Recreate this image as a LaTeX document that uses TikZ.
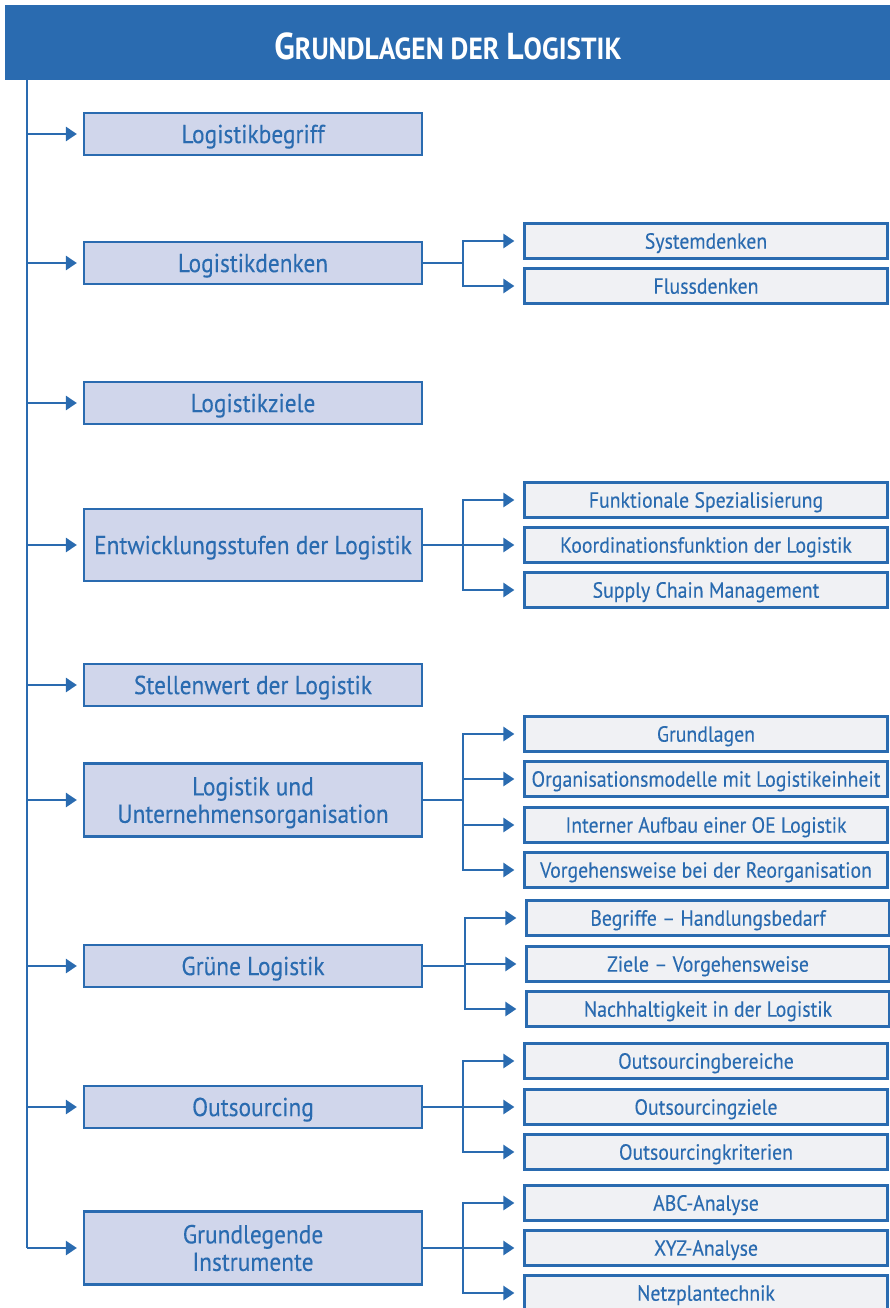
\documentclass[tikz,border=0pt]{standalone}
\usepackage{fontspec}
\setmainfont{PT Sans}[FakeStretch=0.9,FakeBold=0.2]
\newfontfamily\headfont{PT Sans}[FakeStretch=0.9]
\usetikzlibrary{arrows.meta}
\definecolor{mainblue}{HTML}{2A6BB0}
\definecolor{mainfill}{HTML}{D0D6EB}
\definecolor{subfill}{HTML}{F0F1F4}
\tikzset{
  conn/.style={draw=mainblue, line width=2.4pt, line join=miter},
  arr/.style={conn, -{Triangle[length=11pt,width=14pt]}},
  mainbox/.style={draw=mainblue, fill=mainfill, line width=2.2pt,
    minimum width=338pt, minimum height=42pt, inner sep=0pt, align=center,
    text=mainblue, font=\fontsize{26}{27.5}\selectfont,
    text height=18.2pt, text depth=0pt},
  twoline/.style={minimum height=73pt, text height=45.7pt},
  subbox/.style={draw=mainblue, fill=subfill, line width=2.2pt,
    minimum width=363pt, minimum height=35pt, inner sep=0pt, text=mainblue,
    font=\fontsize{22}{24}\selectfont, text height=15.4pt, text depth=0pt},
}
\begin{document}
\begin{tikzpicture}[x=1pt,y=-1pt]
\useasboundingbox (0,0) rectangle (890,1308);

% title bar
\fill[mainblue] (5,5) rectangle (890,80);
\node[text=white, font=\headfont\bfseries] (title) at (448,46)
  {\fontsize{37.5}{40}\selectfont G\fontsize{30.5}{40}\selectfont RUNDLAGEN DER
   \fontsize{37.5}{40}\selectfont L\fontsize{30.5}{40}\selectfont OGISTIK};

% main topics
\node[mainbox] (m1) at (253,134) {Logistikbegriff};
\node[mainbox] (m2) at (253,263) {Logistikdenken};
\node[mainbox] (m3) at (253,403) {Logistikziele};
\node[mainbox, minimum height=72pt] (m4) at (253,545) {Entwicklungsstufen der Logistik};
\node[mainbox] (m5) at (253,685) {Stellenwert der Logistik};
\node[mainbox, twoline] (m6) at (253,800) {Logistik und\\Unternehmensorganisation};
\node[mainbox] (m7) at (253,966) {Grüne Logistik};
\node[mainbox] (m8) at (253,1107) {Outsourcing};
\node[mainbox, twoline] (m9) at (253,1248) {Grundlegende\\Instrumente};

% sub topics
\node[subbox] (s21) at (706,241) {Systemdenken};
\node[subbox] (s22) at (706,286) {Flussdenken};

\node[subbox] (s41) at (706,500) {Funktionale Spezialisierung};
\node[subbox] (s42) at (706,545) {Koordinationsfunktion der Logistik};
\node[subbox] (s43) at (706,590) {Supply Chain Management};

\node[subbox] (s61) at (706,734) {Grundlagen};
\node[subbox] (s62) at (706,779) {Organisationsmodelle mit Logistikeinheit};
\node[subbox] (s63) at (706,825) {Interner Aufbau einer OE Logistik};
\node[subbox] (s64) at (706,870) {Vorgehensweise bei der Reorganisation};

\node[subbox] (s71) at (708,918) {Begriffe – Handlungsbedarf};
\node[subbox] (s72) at (708,964) {Ziele – Vorgehensweise};
\node[subbox] (s73) at (708,1009) {Nachhaltigkeit in der Logistik};

\node[subbox] (s81) at (706,1061) {Outsourcingbereiche};
\node[subbox] (s82) at (706,1107) {Outsourcingziele};
\node[subbox] (s83) at (706,1152) {Outsourcingkriterien};

\node[subbox] (s91) at (706,1203) {ABC-Analyse};
\node[subbox] (s92) at (706,1248) {XYZ-Analyse};
\node[subbox] (s93) at (706,1293) {Netzplantechnik};

% trunk with arrows to the main topics
\coordinate (trunk) at (27,80);
\draw[conn] (trunk) -- (trunk |- m9.west);
\foreach \m in {m1,m2,m3,m4,m5,m6,m7,m8,m9}
  \draw[arr] (trunk |- \m.west) -- ([xshift=-6pt]\m.west);

% branches to the sub topics
\foreach \m/\jx/\subs in {m2/463/{s21,s22}, m4/463/{s41,s42,s43},
    m6/463/{s61,s62,s63,s64}, m7/465/{s71,s72,s73},
    m8/463/{s81,s82,s83}, m9/463/{s91,s92,s93}}{
  \coordinate (j) at (\jx,0);
  \draw[conn] (\m.east) -- (j |- \m.east);
  \foreach \s in \subs
    \draw[arr] (j |- \m.east) |- ([xshift=-9pt]\s.west);
}
\end{tikzpicture}
\end{document}
